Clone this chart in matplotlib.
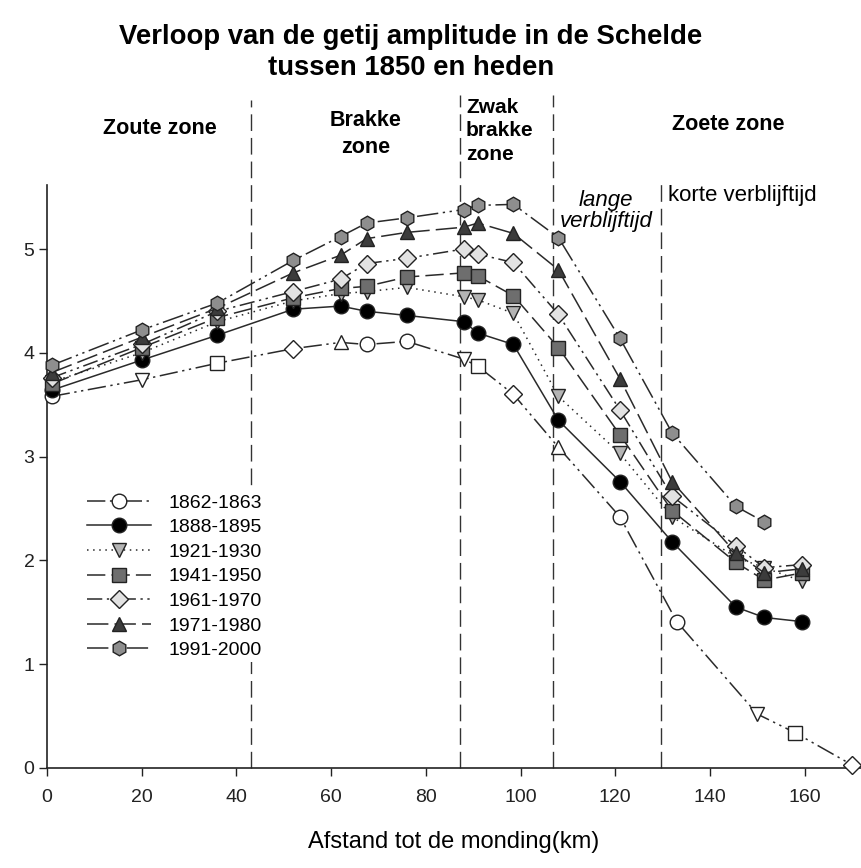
import matplotlib
matplotlib.use("Agg")
import matplotlib.pyplot as plt
from matplotlib.lines import Line2D

plt.rcParams['font.family'] = ['Liberation Sans', 'DejaVu Sans']

# ---- data ----
x_common = [1, 20, 36, 52, 62, 67.5, 76, 88, 91, 98.5, 108, 121, 132, 145.5, 151.5, 159.5]

x_1862 = [1, 20, 36, 52, 62, 67.5, 76, 88, 91, 98.5, 108, 121, 133, 150, 158, 170]
y_1862 = [3.58, 3.74, 3.90, 4.04, 4.10, 4.08, 4.11, 3.94, 3.87, 3.60, 3.09, 2.42, 1.41, 0.52, 0.34, 0.03]
m_1862 = ['o', 'v', 's', 'D', '^', 'o', 'o', 'v', 's', 'D', '^', 'o', 'o', 'v', 's', 'D']

y_1888 = [3.64, 3.93, 4.17, 4.42, 4.45, 4.40, 4.36, 4.30, 4.19, 4.08, 3.35, 2.76, 2.18, 1.55, 1.45, 1.41]
y_1921 = [3.72, 4.00, 4.30, 4.50, 4.57, 4.59, 4.63, 4.54, 4.51, 4.38, 3.58, 3.03, 2.42, 2.03, 1.93, 1.80]
y_1941 = [3.70, 4.05, 4.34, 4.53, 4.62, 4.64, 4.73, 4.77, 4.74, 4.55, 4.05, 3.21, 2.48, 1.98, 1.81, 1.88]
y_1961 = [3.76, 4.08, 4.40, 4.59, 4.71, 4.86, 4.91, 5.00, 4.95, 4.87, 4.37, 3.45, 2.62, 2.14, 1.93, 1.96]
y_1971 = [3.81, 4.15, 4.43, 4.77, 4.94, 5.10, 5.16, 5.21, 5.25, 5.15, 4.80, 3.75, 2.76, 2.07, 1.88, 1.92]
x_1991 = [1, 20, 36, 52, 62, 67.5, 76, 88, 91, 98.5, 108, 121, 132, 145.5, 151.5]
y_1991 = [3.88, 4.22, 4.48, 4.89, 5.12, 5.25, 5.30, 5.38, 5.42, 5.43, 5.11, 4.14, 3.23, 2.52, 2.37]

labels = ['1862-1863', '1888-1895', '1921-1930', '1941-1950', '1961-1970', '1971-1980', '1991-2000']
zone_x = [43, 87.3, 106.8, 129.6]
x_ticks = [0, 20, 40, 60, 80, 100, 120, 140, 160]
y_ticks = [0, 1, 2, 3, 4, 5]

W, H = 861, 868
fig = plt.figure(figsize=(W / 100, H / 100), dpi=100)
ax = fig.add_axes([47 / W, 1 - 768 / H, (W - 47) / W, (768 - 185) / H])

lc = '#2a2a2a'
lw = 1.1
ms = 10.5

# 1862-1863: line + mixed white markers
ls_1862 = (0, (12, 3, 1.5, 3, 1.5, 3))
ax.plot(x_1862, y_1862, color=lc, lw=lw, ls=ls_1862, zorder=2)
for xx, yy, mm in zip(x_1862, y_1862, m_1862):
    s = ms * 0.85 if mm == 'D' else ms
    ax.plot([xx], [yy], marker=mm, ms=s, mfc='white', mec='#222222', mew=1.0,
            ls='none', zorder=3, clip_on=False)

series = [
    (x_common, y_1888, 'o', 'black', '-'),
    (x_common, y_1921, 'v', '#b4b4b4', (0, (1, 3))),
    (x_common, y_1941, 's', '#6e6e6e', (0, (12, 4))),
    (x_common, y_1961, 'D', '#e2e2e2', (0, (10, 3, 1.5, 3, 1.5, 3))),
    (x_common, y_1971, '^', '#3c3c3c', (0, (14, 4))),
    (x_1991, y_1991, 'h', '#8e8e8e', (0, (14, 3, 1.5, 3, 1.5, 3))),
]
handles = [Line2D([], [], color=lc, lw=lw, ls=ls_1862, marker='o', ms=ms,
                  mfc='white', mec='#222222')]
for xs, ys, mk, fc, ls in series:
    s = ms * 0.85 if mk == 'D' else ms
    h, = ax.plot(xs, ys, color=lc, lw=lw, ls=ls, marker=mk, ms=s, mfc=fc,
                 mec='#222222', mew=1.0, zorder=3, clip_on=False)
    handles.append(h)

# zone lines
tops = [(768 - 100) / 583, (768 - 95) / 583, (768 - 95) / 583, (768 - 180) / 583]
for zx, tp in zip(zone_x, tops):
    ax.axvline(zx, ymin=0, ymax=tp, color='#333333', lw=1.0, ls=(0, (12, 5)),
               clip_on=False, zorder=1)

ax.set_xlim(0, (W - 47) / 4.735)
ax.set_ylim(0, (768 - 185) / 103.8)
ax.set_xticks(x_ticks)
ax.set_yticks(y_ticks)
ax.tick_params(direction='out', length=6, width=1, labelsize=14, colors='#222222')
ax.tick_params(axis='x', pad=9)
ax.tick_params(axis='y', pad=3)
for sp in ['top', 'right']:
    ax.spines[sp].set_visible(False)
for sp in ['left', 'bottom']:
    ax.spines[sp].set_color('#222222')
    ax.spines[sp].set_linewidth(1.2)
ax.set_xlabel('Afstand tot de monding(km)', fontsize=17, labelpad=18)

# title
ft = 19.8
fig.text(411 / W, 1 - 37 / H, 'Verloop van de getij amplitude in de Schelde',
         ha='center', va='center', fontsize=ft, fontweight='bold')
fig.text(411 / W, 1 - 68 / H, 'tussen 1850 en heden',
         ha='center', va='center', fontsize=ft, fontweight='bold')

# zone labels
fz = 15.5
fig.text(160 / W, 1 - 129 / H, 'Zoute zone', ha='center', va='center', fontsize=fz, fontweight='bold')
fig.text(366 / W, 1 - 134 / H, 'Brakke\nzone', ha='center', va='center', fontsize=fz,
         fontweight='bold', linespacing=1.4)
fig.text(466 / W, 1 - 131 / H, 'Zwak\nbrakke\nzone', ha='left', va='center', fontsize=15,
         fontweight='bold', linespacing=1.3)
fig.text(728 / W, 1 - 125 / H, 'Zoete zone', ha='center', va='center', fontsize=fz, fontweight='bold')
fig.text(606 / W, 1 - 211 / H, 'lange\nverblijftijd', ha='center', va='center', fontsize=16,
         style='italic', linespacing=1.05)
fig.text(668 / W, 1 - 195 / H, 'korte verblijftijd', ha='left', va='center', fontsize=16)

leg = ax.legend(handles, labels, loc='upper left', bbox_to_anchor=(84 / W, 1 - 491 / H),
                bbox_transform=fig.transFigure, frameon=True, fontsize=14,
                handlelength=3.3, handletextpad=0.9, labelspacing=0.36,
                borderpad=0.15, borderaxespad=0, fancybox=False)
leg.get_frame().set_facecolor('white')
leg.get_frame().set_edgecolor('none')
leg.get_frame().set_alpha(1.0)
leg.set_zorder(5)

fig.savefig('out.png', dpi=100)
